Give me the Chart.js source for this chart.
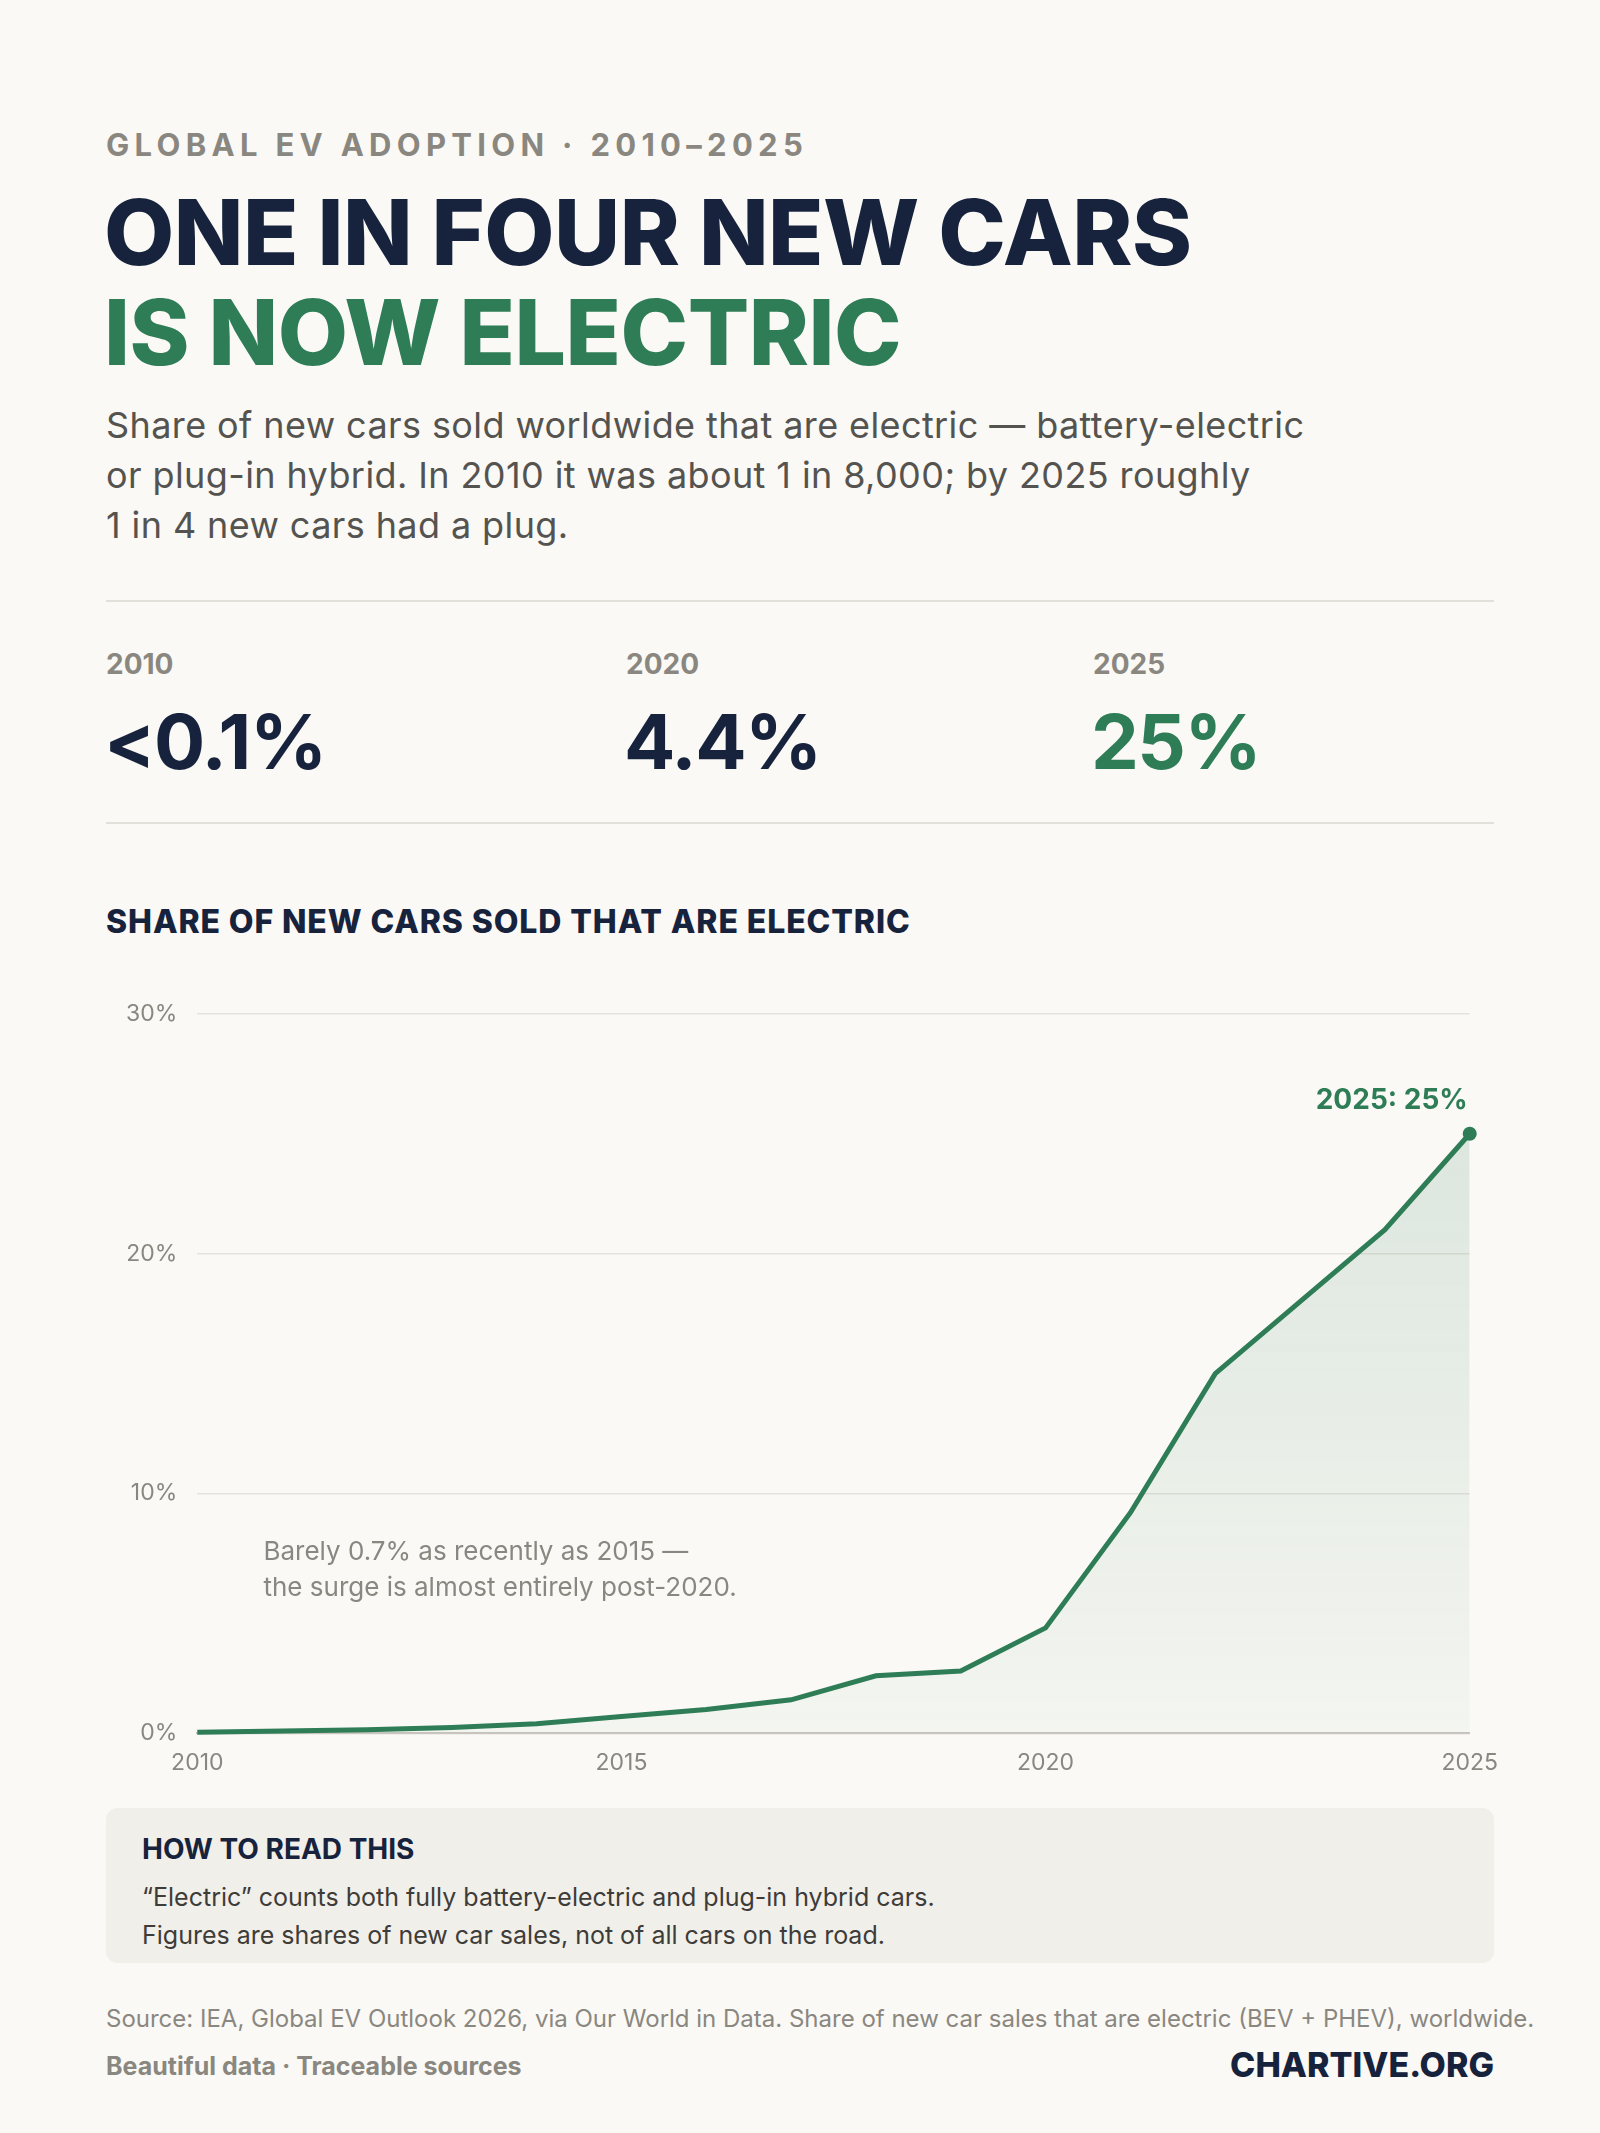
<!DOCTYPE html>
<html><head><meta charset="utf-8">
<script src="https://cdn.jsdelivr.net/npm/chart.js@4"></script>
<style>
html,body{margin:0;padding:0;background:#faf9f5;}
body{width:1600px;height:2133px;position:relative;font-family:Inter,"Noto Sans",sans-serif;overflow:hidden;}
.a{position:absolute;white-space:nowrap;}
.eb{left:106px;top:126px;font-size:31px;font-weight:700;letter-spacing:5.3px;color:#8a8780;}
.t{left:104px;font-size:91px;font-weight:800;letter-spacing:-0.5px;line-height:100px;}
.sub{left:106px;top:400px;font-size:36px;letter-spacing:0.4px;line-height:50px;color:#55534f;white-space:normal;width:1300px;}
.rule{left:106px;width:1388px;height:2px;background:#e3e0d9;}
.sl{font-size:28px;font-weight:700;color:#8a8780;top:647px;}
.sv{font-size:76px;font-weight:700;top:695px;letter-spacing:-1.5px;}
.ct{left:106px;top:902px;font-size:32px;font-weight:800;letter-spacing:0.9px;color:#17233d;}
.box{left:106px;top:1808px;width:1388px;height:155px;background:#f1efea;border-radius:12px;}
</style></head><body>
<div class="a eb">GLOBAL EV ADOPTION · 2010–2025</div>
<div class="a t" style="top:182px;color:#17233d">ONE IN FOUR NEW CARS</div>
<div class="a t" style="top:282px;color:#2e7d57">IS NOW ELECTRIC</div>
<div class="a sub">Share of new cars sold worldwide that are electric — battery-electric<br>or plug-in hybrid. In 2010 it was about 1 in 8,000; by 2025 roughly<br>1 in 4 new cars had a plug.</div>
<div class="a rule" style="top:600px"></div>
<div class="a sl" style="left:106px">2010</div><div class="a sv" style="left:104px;color:#17233d">&lt;0.1%</div>
<div class="a sl" style="left:626px">2020</div><div class="a sv" style="left:624px;color:#17233d">4.4%</div>
<div class="a sl" style="left:1093px">2025</div><div class="a sv" style="left:1091px;color:#2e7d57">25%</div>
<div class="a rule" style="top:822px"></div>
<div class="a ct">SHARE OF NEW CARS SOLD THAT ARE ELECTRIC</div>
<div class="a" style="left:106px;top:980px;width:1400px;height:805px"><canvas id="c" width="1400" height="805"></canvas></div>
<div class="a box"></div>
<div class="a" style="left:142px;top:1832px;font-size:28px;font-weight:700;color:#17233d">HOW TO READ THIS</div>
<div class="a" style="left:142px;top:1878px;font-size:25px;line-height:38px;color:#3e3c38">“Electric” counts both fully battery-electric and plug-in hybrid cars.<br>Figures are shares of new car sales, not of all cars on the road.</div>
<div class="a" style="left:106px;top:2004px;font-size:24px;color:#8a8780">Source: IEA, Global EV Outlook 2026, via Our World in Data. Share of new car sales that are electric (BEV + PHEV), worldwide.</div>
<div class="a" style="left:106px;top:2051px;font-size:25px;font-weight:700;color:#8a8780">Beautiful data · Traceable sources</div>
<div class="a" style="right:106px;top:2044px;font-size:34px;font-weight:800;color:#17233d">CHARTIVE.ORG</div>
<script>
const years=[2010,2011,2012,2013,2014,2015,2016,2017,2018,2019,2020,2021,2022,2023,2024,2025];
const share=[0.05,0.1,0.15,0.25,0.4,0.7,1.0,1.4,2.4,2.6,4.4,9.2,15,18,21,25];
const yTicks=[0,10,20,30];
const note=["Barely 0.7% as recently as 2015 —","the surge is almost entirely post-2020."];
const endLabel="2025: 25%";
const green="#2e7d57";
const ann={id:"ann",afterDatasetsDraw(ch){
  const {ctx,scales:{x,y}}=ch;ctx.save();
  ctx.font="26px Inter, sans-serif";ctx.fillStyle="#8a8780";ctx.textBaseline="middle";ctx.textAlign="left";
  ctx.fillText(note[0],x.getPixelForValue(2010.78),y.getPixelForValue(7.55));
  ctx.fillText(note[1],x.getPixelForValue(2010.78),y.getPixelForValue(6.05));
  ctx.font="bold 28px Inter, sans-serif";ctx.fillStyle=green;ctx.textAlign="right";
  ctx.fillText(endLabel,x.getPixelForValue(2025)-2,y.getPixelForValue(26.4));
  ctx.restore();}};
new Chart(document.getElementById("c"),{type:"line",
 data:{datasets:[{data:years.map((v,i)=>({x:v,y:share[i]})),borderColor:green,borderWidth:5,clip:false,
  pointRadius:years.map((v,i)=>i===years.length-1?7:0),pointBackgroundColor:green,pointBorderWidth:0,
  tension:0,fill:"origin",
  backgroundColor:(c)=>{const a=c.chart.chartArea;if(!a)return "rgba(46,125,87,0.1)";
   const g=c.chart.ctx.createLinearGradient(0,a.top,0,a.bottom);g.addColorStop(0,"rgba(46,125,87,0.16)");g.addColorStop(1,"rgba(46,125,87,0.03)");return g;}}]},
 options:{responsive:false,animation:false,layout:{padding:{right:17,top:10}},
  plugins:{legend:{display:false},tooltip:{enabled:false}},
  scales:{
   x:{type:"linear",min:2010,max:2025,grid:{display:false},border:{color:"#c9c6bf",width:2},
      ticks:{stepSize:5,callback:v=>String(v),color:"#8a8780",font:{size:23,family:"Inter"},padding:8}},
   y:{min:0,max:30,afterBuildTicks:s=>{s.ticks=yTicks.map(v=>({value:v}));},
      grid:{color:"#e6e3dc",lineWidth:1.5,drawTicks:false},border:{display:false},
      ticks:{callback:v=>v+"%",color:"#8a8780",font:{size:23,family:"Inter"},padding:20}}}},
 plugins:[ann]});
</script>
</body></html>
